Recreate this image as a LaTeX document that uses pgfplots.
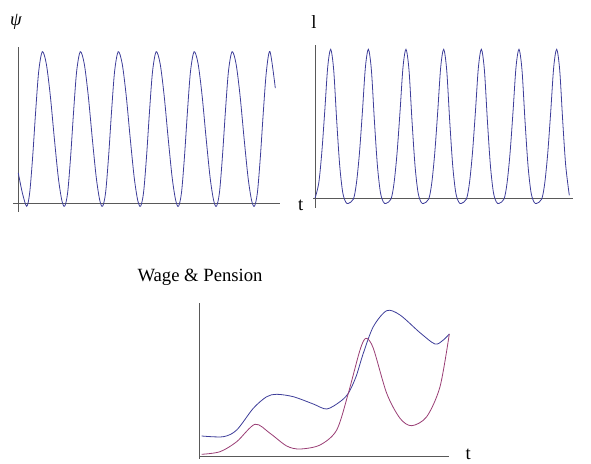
\documentclass[border=0pt]{standalone}
\usepackage{pgfplots}
\pgfplotsset{compat=1.18}
\usepackage{fontspec}
\setmainfont{Liberation Serif}

\definecolor{mblue}{rgb}{0.24,0.24,0.6}
\definecolor{mred}{rgb}{0.6,0.24,0.456}

\pgfplotsset{
  panel/.style={
    anchor=south west,
    axis lines=middle,
    axis line style={-, draw=black!65, line width=0.7pt},
    every inner x axis line/.append style={-},
    every inner y axis line/.append style={-},
    ticks=none,
    enlargelimits=false,
    clip=false,
  },
  curve/.style={smooth, no markers, line width=0.6pt},
}

\begin{document}
\begin{tikzpicture}
\useasboundingbox (0,0) rectangle (443.25pt,347.25pt);

% psi
\begin{axis}[panel, at={(9.975pt,188.55pt)}, x=0.75pt, y=113.7pt,
  xmin=-5, xmax=261.7, ymin=-0.055, ymax=1.033]
\addplot[curve, mblue] coordinates {
(0,0.20) (4,0.07) (8.4,-0.02)
(11.4,0.07) (14.4,0.31) (17.4,0.61) (20.4,0.87) (24.0,1) (28.0,0.92) (32.0,0.71) (36.0,0.43) (40.0,0.17) (43.5,0.02) (46.35,-0.02)
(49.35,0.07) (52.35,0.31) (55.35,0.61) (58.35,0.87) (61.95,1) (65.95,0.92) (69.95,0.71) (73.95,0.43) (77.95,0.17) (81.45,0.02) (84.3,-0.02)
(87.3,0.07) (90.3,0.31) (93.3,0.61) (96.3,0.87) (99.9,1) (103.9,0.92) (107.9,0.71) (111.9,0.43) (115.9,0.17) (119.4,0.02) (122.25,-0.02)
(125.25,0.07) (128.25,0.31) (131.25,0.61) (134.25,0.87) (137.85,1) (141.85,0.92) (145.85,0.71) (149.85,0.43) (153.85,0.17) (157.35,0.02) (160.2,-0.02)
(163.2,0.07) (166.2,0.31) (169.2,0.61) (172.2,0.87) (175.8,1) (179.8,0.92) (183.8,0.71) (187.8,0.43) (191.8,0.17) (195.3,0.02) (198.15,-0.02)
(201.15,0.07) (204.15,0.31) (207.15,0.61) (210.15,0.87) (213.75,1) (217.75,0.92) (221.75,0.71) (225.75,0.43) (229.75,0.17) (233.25,0.02) (236.1,-0.02)
(239.1,0.07) (242.1,0.31) (245.1,0.61) (248.1,0.87) (251.7,1) (257,0.76)
};
\end{axis}

% l
\begin{axis}[panel, at={(234.75pt,191.25pt)}, x=0.75pt, y=111.75pt,
  xmin=-2, xmax=258, ymin=-0.065, ymax=1.03]
\addplot[curve, mblue] coordinates {
(0,0) (3.7,0.10) (6.7,0.30) (9.7,0.58) (12.7,0.88) (15.7,1) (18.7,0.86) (21.7,0.52) (24.7,0.22) (27.7,0.04) (30.7,-0.025) (33.4,-0.034)
(38.4,-0.005) (41.4,0.10) (44.4,0.30) (47.4,0.58) (50.4,0.88) (53.4,1) (56.4,0.86) (59.4,0.52) (62.4,0.22) (65.4,0.04) (68.4,-0.025) (71.1,-0.034)
(76.0,-0.005) (79.0,0.10) (82.0,0.30) (85.0,0.58) (88.0,0.88) (91.0,1) (94.0,0.86) (97.0,0.52) (100.0,0.22) (103.0,0.04) (106.0,-0.025) (108.7,-0.034)
(113.7,-0.005) (116.7,0.10) (119.7,0.30) (122.7,0.58) (125.7,0.88) (128.7,1) (131.7,0.86) (134.7,0.52) (137.7,0.22) (140.7,0.04) (143.7,-0.025) (146.4,-0.034)
(151.4,-0.005) (154.4,0.10) (157.4,0.30) (160.4,0.58) (163.4,0.88) (166.4,1) (169.4,0.86) (172.4,0.52) (175.4,0.22) (178.4,0.04) (181.4,-0.025) (184.1,-0.034)
(189.0,-0.005) (192.0,0.10) (195.0,0.30) (198.0,0.58) (201.0,0.88) (204.0,1) (207.0,0.86) (210.0,0.52) (213.0,0.22) (216.0,0.04) (219.0,-0.025) (221.7,-0.034)
(226.7,-0.005) (229.7,0.10) (232.7,0.30) (235.7,0.58) (238.7,0.88) (241.7,1) (244.7,0.86) (247.7,0.52) (250.7,0.22) (254.3,0.02)
};
\end{axis}

% wage & pension
\begin{axis}[panel, at={(149.25pt,3.225pt)}, x=0.75pt, y=75pt,
  xmin=0, xmax=250.3, ymin=-0.02, ymax=1.534]
\addplot[curve, mblue] coordinates {
(2.7,0.207) (24.3,0.20) (37.7,0.267) (54.3,0.484) (67.7,0.60) (77.7,0.624) (94.3,0.60)
(114.3,0.527) (127.7,0.477) (141,0.55) (149.3,0.634) (157,0.80) (164.3,1.034) (174.3,1.30)
(187.7,1.46) (201,1.417) (221,1.24) (236,1.127) (244.3,1.167) (250.3,1.227)
};
\addplot[curve, mred] coordinates {
(2.7,0.024) (21,0.05) (37.7,0.15) (56,0.324) (71,0.234) (87.7,0.107) (101,0.077)
(121,0.117) (137.7,0.267) (149.3,0.634) (161,1.067) (167,1.184) (174.3,1.084)
(187.7,0.634) (201,0.384) (212.7,0.31) (227.7,0.40) (241,0.70) (250.3,1.227)
};
\end{axis}

\node[font=\fontsize{14}{16}\selectfont\itshape] at (12pt,330.75pt) {ψ};
\node[font=\fontsize{14}{16}\selectfont] at (235.5pt,330.975pt) {l};
\node[font=\fontsize{14}{16}\selectfont] at (225.5pt,193.5pt) {t};
\node[font=\fontsize{14}{16}\selectfont] at (150pt,139.5pt) {Wage \& Pension};
\node[font=\fontsize{14}{16}\selectfont] at (351.2pt,6.2pt) {t};
\end{tikzpicture}
\end{document}
